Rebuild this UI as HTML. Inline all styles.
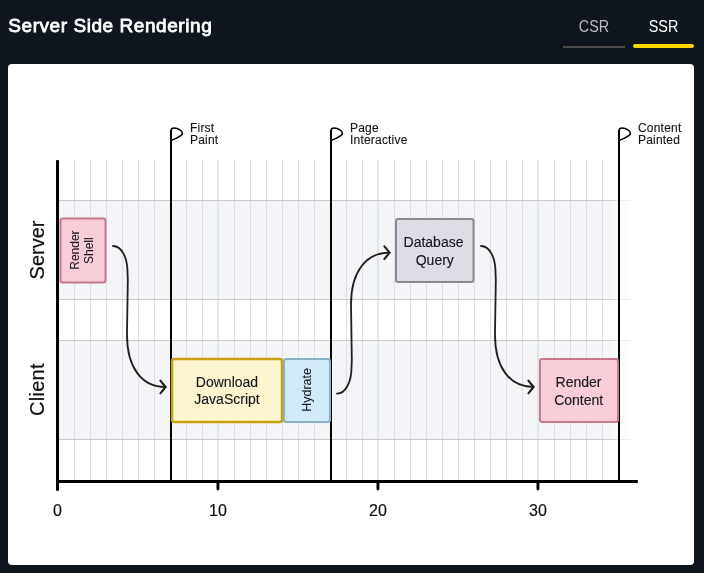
<!DOCTYPE html>
<html>
<head>
<meta charset="utf-8">
<style>
html,body{margin:0;padding:0;}
body{width:704px;height:573px;background:#0e151c;position:relative;overflow:hidden;font-family:"Liberation Sans",sans-serif;}
svg{position:absolute;left:0;top:0;will-change:transform;}
</style>
</head>
<body>
<svg width="704" height="573" viewBox="0 0 704 573" font-family="Liberation Sans, sans-serif">
  <defs>
    <linearGradient id="bandFill" gradientUnits="userSpaceOnUse" x1="604" y1="0" x2="634" y2="0">
      <stop offset="0" stop-color="#f3f5f7" stop-opacity="1"/>
      <stop offset="1" stop-color="#f3f5f7" stop-opacity="0"/>
    </linearGradient>
    <linearGradient id="bandLine" gradientUnits="userSpaceOnUse" x1="604" y1="0" x2="634" y2="0">
      <stop offset="0" stop-color="#c9cace" stop-opacity="1"/>
      <stop offset="1" stop-color="#c9cace" stop-opacity="0"/>
    </linearGradient>
  </defs>

  <!-- header -->
  <text x="8.3" y="31.5" font-size="19" letter-spacing="0.56" fill="#ffffff" stroke="#ffffff" stroke-width="0.8">Server Side Rendering</text>
  <text transform="translate(594,31.9) scale(0.87,1)" font-size="16.5" fill="#bdbbc0" text-anchor="middle">CSR</text>
  <rect x="563" y="46" width="62" height="2" fill="#4b4b4b"/>
  <text transform="translate(663.5,31.9) scale(0.87,1)" font-size="16.5" fill="#ffffff" text-anchor="middle">SSR</text>
  <rect x="633" y="44" width="61" height="4" rx="2" fill="#ffd600"/>

  <!-- card -->
  <rect x="8" y="64" width="686" height="501" rx="4" fill="#ffffff"/>

  <!-- bands -->
  <rect x="59" y="200" width="575" height="100" fill="url(#bandFill)"/>
  <rect x="59" y="340" width="575" height="100" fill="url(#bandFill)"/>
  <!-- grid -->
  <g id="grid" fill="#d7dbe3" fill-opacity="0.85"><rect x="74" y="160" width="1" height="320"/><rect x="90" y="160" width="1" height="320"/><rect x="106" y="160" width="1" height="320"/><rect x="122" y="160" width="1" height="320"/><rect x="138" y="160" width="1" height="320"/><rect x="154" y="160" width="1" height="320"/><rect x="170" y="160" width="1" height="320"/><rect x="186" y="160" width="1" height="320"/><rect x="202" y="160" width="1" height="320"/><rect x="217" y="160" width="2" height="320" fill-opacity="0.65"/><rect x="234" y="160" width="1" height="320"/><rect x="250" y="160" width="1" height="320"/><rect x="266" y="160" width="1" height="320"/><rect x="282" y="160" width="1" height="320"/><rect x="298" y="160" width="1" height="320"/><rect x="314" y="160" width="1" height="320"/><rect x="330" y="160" width="1" height="320"/><rect x="346" y="160" width="1" height="320"/><rect x="362" y="160" width="1" height="320"/><rect x="377" y="160" width="2" height="320" fill-opacity="0.65"/><rect x="394" y="160" width="1" height="320"/><rect x="410" y="160" width="1" height="320"/><rect x="426" y="160" width="1" height="320"/><rect x="442" y="160" width="1" height="320"/><rect x="458" y="160" width="1" height="320"/><rect x="474" y="160" width="1" height="320"/><rect x="490" y="160" width="1" height="320"/><rect x="506" y="160" width="1" height="320"/><rect x="522" y="160" width="1" height="320"/><rect x="537" y="160" width="2" height="320" fill-opacity="0.65"/><rect x="554" y="160" width="1" height="320"/><rect x="570" y="160" width="1" height="320"/><rect x="586" y="160" width="1" height="320"/><rect x="602" y="160" width="1" height="320"/></g>

  <rect x="59" y="200" width="575" height="1" fill="url(#bandLine)"/>
  <rect x="59" y="299" width="575" height="1" fill="url(#bandLine)"/>
  <rect x="59" y="340" width="575" height="1" fill="url(#bandLine)"/>
  <rect x="59" y="439" width="575" height="1" fill="url(#bandLine)"/>

  <!-- axes -->
  <rect x="56" y="160" width="3" height="323" rx="1" fill="#000"/>
  <rect x="56" y="480" width="582" height="3" rx="1" fill="#000"/>
  <rect x="56" y="480" width="3" height="11" rx="1.5" fill="#000"/>
  <rect x="216.5" y="480" width="2.9" height="10.5" rx="1.4" fill="#000"/>
  <rect x="376.5" y="480" width="2.9" height="10.5" rx="1.4" fill="#000"/>
  <rect x="536.5" y="480" width="2.9" height="10.5" rx="1.4" fill="#000"/>
  <g font-size="16" fill="#111" stroke="#111" stroke-width="0.2" text-anchor="middle">
    <text x="57.5" y="516">0</text>
    <text x="218" y="516">10</text>
    <text x="378" y="516">20</text>
    <text x="538" y="516">30</text>
  </g>

  <!-- y labels -->
  <text transform="translate(44,250) rotate(-90)" font-size="20" fill="#111" stroke="#111" stroke-width="0.2" text-anchor="middle">Server</text>
  <text transform="translate(44.2,389.6) rotate(-90)" font-size="20" fill="#111" stroke="#111" stroke-width="0.2" letter-spacing="0.3" text-anchor="middle">Client</text>

  <!-- milestones -->
  <g fill="#000">
    <rect x="170" y="130.5" width="2" height="349.5"/>
    <rect x="330" y="130.5" width="2" height="349.5"/>
    <rect x="618" y="130.5" width="2" height="349.5"/>
  </g>
  <g stroke="#000" stroke-width="1.6" fill="none" stroke-linecap="round" stroke-linejoin="round">
    <path id="flag" d="M171,131 Q171,128 174,128 C178.5,128 182.5,131 182.5,133.6 C182,136.2 177,138 171.5,140.3"/>
    <use href="#flag" transform="translate(160,0)"/>
    <use href="#flag" transform="translate(448,0)"/>
  </g>
  <g font-size="12" fill="#161616" stroke="#161616" stroke-width="0.12" letter-spacing="0.2">
    <text x="190" y="131.5">First</text>
    <text x="190" y="143.8">Paint</text>
    <text x="350" y="131.5">Page</text>
    <text x="350" y="143.8">Interactive</text>
    <text x="638" y="131.5">Content</text>
    <text x="638" y="143.8">Painted</text>
  </g>

  <!-- boxes -->
  <rect x="60.5" y="218.5" width="45" height="64" rx="2.2" fill="#f9cdd8" stroke="#c47a8b" stroke-width="2"/>
  <rect x="172" y="359" width="110" height="63" rx="2.2" fill="#fdf5cd" stroke="#c9a30c" stroke-width="2.5"/>
  <rect x="284" y="359" width="46" height="63" rx="2.2" fill="#d1eaf8" stroke="#8aafc6" stroke-width="2"/>
  <rect x="396" y="219" width="77.5" height="63" rx="2.2" fill="#dfdce5" stroke="#8b8892" stroke-width="2"/>
  <rect x="540" y="359" width="78" height="63" rx="2.2" fill="#f9cdd8" stroke="#c47a8b" stroke-width="2"/>

  <g fill="#15161e" stroke="#15161e" text-anchor="middle">
    <g font-size="12" stroke-width="0.05">
      <text transform="translate(78.5,250.1) rotate(-90)">Render</text>
      <text transform="translate(92.9,250.7) rotate(-90)">Shell</text>
      <text transform="translate(310.9,389.9) rotate(-90)" font-size="12.5">Hydrate</text>
    </g>
    <g font-size="14" stroke-width="0.12">
      <text x="227" y="386.8">Download</text>
      <text x="227" y="404">JavaScript</text>
      <text x="433.5" y="246.7">Database</text>
      <text x="434.8" y="264.5">Query</text>
      <text x="578.5" y="387.2">Render</text>
      <text x="578.7" y="404.8">Content</text>
    </g>
  </g>

  <!-- arrows -->
  <g stroke="#1f1f1f" stroke-width="1.8" fill="none" stroke-linecap="round" stroke-linejoin="round">
    <g id="arrow">
      <path d="M113,246 C121.6,246 127.5,257.6 127.5,272 L127.8,280 L127,335 C127,368 142,387 165.5,387"/>
      <path d="M160.4,380.6 L165.6,387 L160.4,393.3" stroke-width="2.1"/>
    </g>
    <use href="#arrow" transform="matrix(1,0,0,-1,224,639.6)"/>
    <use href="#arrow" transform="translate(368,0)"/>
  </g>
</svg>
</body>
</html>
